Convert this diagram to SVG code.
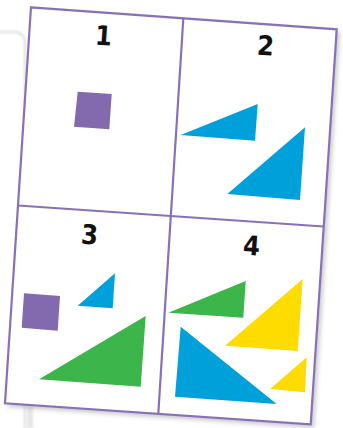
<svg xmlns="http://www.w3.org/2000/svg" width="343" height="428" viewBox="0 0 343 428">
  <defs>
    <filter id="blur" x="-20%" y="-20%" width="140%" height="140%">
      <feGaussianBlur stdDeviation="2"/>
    </filter>
    <filter id="soft" x="-50%" y="-10%" width="200%" height="120%">
      <feGaussianBlur stdDeviation="1.2"/>
    </filter>
  </defs>
  <style>
    .frame { fill: #ffffff; stroke: #8a70b8; stroke-width: 2.2; stroke-linejoin: miter; }
    .div { stroke: #8a70b8; stroke-width: 2.2; fill: none; }
    .num { font-family: "DejaVu Sans Condensed", "DejaVu Sans", "Liberation Sans", sans-serif; font-weight: bold; font-size: 27px; fill: #111111; text-anchor: middle; }
    .purple { fill: #836aae; }
    .blue { fill: #00a0da; }
    .green { fill: #3cb54a; }
    .yellow { fill: #ffdc00; }
  </style>

  <rect width="343" height="428" fill="#ffffff"/>

  <!-- background card at left -->
  <g id="back-card">
    <rect x="-20" y="32" width="45" height="430" rx="10" ry="10" fill="#ffffff" stroke="#e2e2e2" stroke-width="2.5" filter="url(#soft)"/>
    <rect x="27" y="406" width="6" height="22" fill="#e6e6e6" filter="url(#soft)"/>
  </g>

  <!-- card shadow -->
  <polygon points="34,10 340,32 314,428 8,407" fill="#8c8c8c" opacity="0.45" filter="url(#blur)"/>

  <!-- card -->
  <g id="card">
    <polygon class="frame" points="31,7.3 336.7,29.3 310.7,424.3 5,403.3"/>
    <g id="dividers">
      <line class="div" x1="183.3" y1="19" x2="158.3" y2="413.3"/>
      <line class="div" x1="18" y1="205.5" x2="323.5" y2="226.5"/>
    </g>
  </g>

  <g id="q1">
    <text class="num" x="103" y="45" transform="rotate(4 103 45)">1</text>
    <polygon class="purple" points="77.7,91.7 111.7,94 109.3,129.3 74,126.7"/>
  </g>

  <g id="q2">
    <text class="num" x="265" y="55" transform="rotate(4 265 55)">2</text>
    <polygon class="blue" points="180.7,135 257.7,104 255,140.7"/>
    <polygon class="blue" points="305,127.3 300,200 227.3,194"/>
  </g>

  <g id="q3">
    <text class="num" x="89" y="244" transform="rotate(4 89 244)">3</text>
    <polygon class="purple" points="24,293.3 60,296 57.7,330.7 21.7,327.7"/>
    <polygon class="blue" points="115,273.3 112.7,308.3 77.7,305.7"/>
    <polygon class="green" points="145.7,316 140.7,386.7 39,379.3"/>
  </g>

  <g id="q4">
    <text class="num" x="251" y="255" transform="rotate(4 251 255)">4</text>
    <polygon class="green" points="168.3,312.7 245.7,281 243.3,317.7"/>
    <polygon class="yellow" points="302.7,279 297.7,351 225,345.7"/>
    <polygon class="blue" points="180.7,326.7 175,396.7 276.7,404"/>
    <polygon class="yellow" points="306.7,357.3 305,392.3 270,389"/>
  </g>
</svg>
